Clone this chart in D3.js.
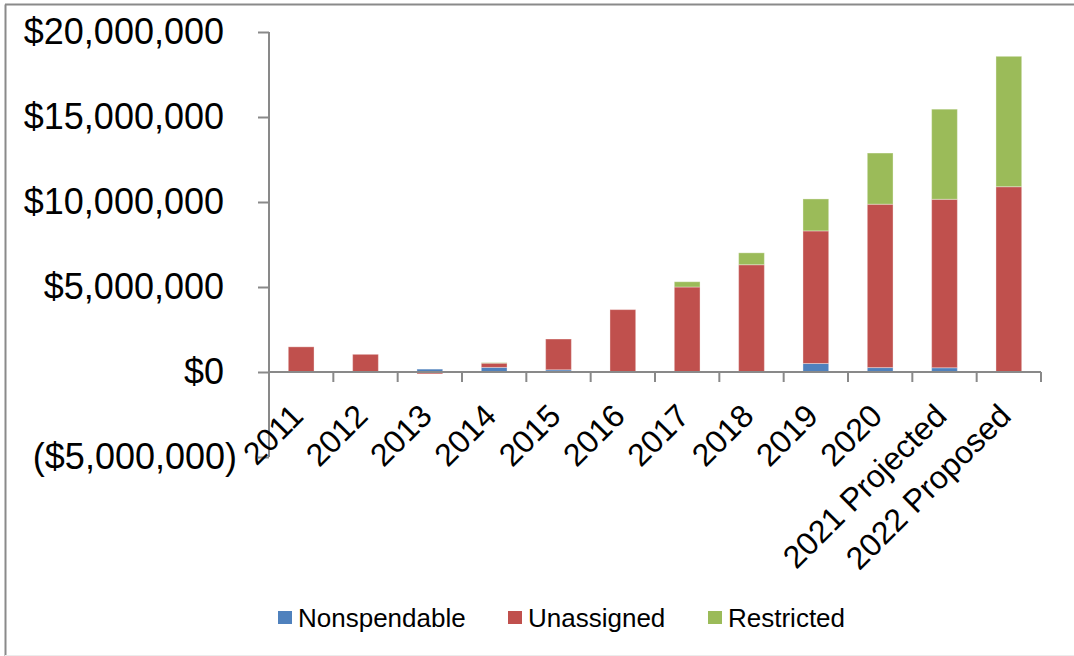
<!DOCTYPE html>
<html>
<head>
<meta charset="utf-8">
<script src="https://cdn.jsdelivr.net/npm/d3@7"></script>
<style>
  html, body { margin: 0; padding: 0; background: #fff; }
  svg { display: block; font-family: "Liberation Sans", Arial, sans-serif; }
</style>
</head>
<body>
<svg id="chart" width="1074" height="656"></svg>
<script>
const categories = ["2011","2012","2013","2014","2015","2016","2017","2018","2019","2020","2021 Projected","2022 Proposed"];
const seriesNames = ["Nonspendable","Unassigned","Restricted"];
const nonspendable = [20000, 20000, 170000, 270000, 130000, 0, 20000, 0, 500000, 260000, 250000, 0];
const unassigned   = [1460000, 1020000, -110000, 250000, 1810000, 3670000, 4980000, 6310000, 7800000, 9610000, 9910000, 10900000];
const restricted   = [0, 0, 0, 30000, 0, 0, 310000, 700000, 1880000, 3010000, 5300000, 7670000];
const yTickValues  = [-5000000, 0, 5000000, 10000000, 15000000, 20000000];
const colors = ["#4F81BD", "#C0504D", "#9BBB59"];

const svg = d3.select("#chart");

// outer border
svg.append("line").attr("x1",5.5).attr("x2",5.5).attr("y1",4.5).attr("y2",656).attr("stroke","#8a8a8a").attr("stroke-width",2);
svg.append("line").attr("x1",5).attr("x2",1074).attr("y1",4.5).attr("y2",4.5).attr("stroke","#8a8a8a").attr("stroke-width",2);
svg.append("line").attr("x1",5).attr("x2",1074).attr("y1",655.5).attr("y2",655.5).attr("stroke","#ececec").attr("stroke-width",1);

const plot = {left: 269, right: 1041, top: 32, bottom: 457};

const rows = categories.map((c, i) => ({
  cat: c,
  Nonspendable: nonspendable[i],
  Unassigned: unassigned[i],
  Restricted: restricted[i]
}));

const x = d3.scaleBand().domain(categories).range([plot.left, plot.right]).padding(0);
const y = d3.scaleLinear().domain([-5000000, 20000000]).range([plot.bottom, plot.top]);

const stack = d3.stack().keys(seriesNames).offset(d3.stackOffsetDiverging);
const layers = stack(rows);

// bars
const barW = x.bandwidth() * 0.4;
svg.append("g").selectAll("g")
  .data(layers)
  .join("g")
  .attr("fill", (d, i) => colors[i])
  .selectAll("rect")
  .data(d => d)
  .join("rect")
  .attr("x", d => x(d.data.cat) + (x.bandwidth() - barW) / 2)
  .attr("width", barW)
  .attr("y", d => y(Math.max(d[0], d[1])))
  .attr("height", d => Math.abs(y(d[0]) - y(d[1])))
  .attr("stroke", "rgba(255,255,255,0.35)")
  .attr("stroke-width", 1);

// y axis
const fmt = d3.format(",");
const yAxis = d3.axisLeft(y)
  .tickValues(yTickValues)
  .tickSize(11)
  .tickPadding(21)
  .tickFormat(v => v < 0 ? "($" + fmt(-v) + ")" : "$" + fmt(v));
const gy = svg.append("g").attr("transform", `translate(${plot.left},0)`).call(yAxis);
gy.select(".domain").attr("stroke", "#898989").attr("stroke-width", 2).attr("d", `M0,${plot.top}V${plot.bottom}`);
gy.selectAll(".tick line").attr("stroke", "#898989").attr("stroke-width", 2);
gy.selectAll(".tick text")
  .attr("font-size", 36)
  .attr("fill", "#000")
  .attr("font-family", "'Liberation Sans', Arial, sans-serif")
  .attr("x", v => v < 0 ? -32 : -45);

// x axis line at zero
const y0 = y(0);
const gx = svg.append("g");
gx.append("line")
  .attr("x1", plot.left).attr("x2", plot.right)
  .attr("y1", y0).attr("y2", y0)
  .attr("stroke", "#898989").attr("stroke-width", 2);
const boundaries = categories.map(c => x(c) + x.bandwidth());
gx.selectAll("line.tk")
  .data(boundaries)
  .join("line")
  .attr("class", "tk")
  .attr("x1", d => d).attr("x2", d => d)
  .attr("y1", y0).attr("y2", y0 + 10)
  .attr("stroke", "#898989").attr("stroke-width", 2);

gx.selectAll("text")
  .data(categories)
  .join("text")
  .attr("transform", c => `translate(${x(c) + x.bandwidth() / 2 + 4},${y0 + 46}) rotate(-45)`)
  .attr("text-anchor", "end")
  .attr("font-size", 32)
  .attr("fill", "#000")
  .text(c => c);

// legend
const legendItems = [
  {name: "Nonspendable", sx: 278, tx: 298},
  {name: "Unassigned", sx: 508, tx: 528},
  {name: "Restricted", sx: 708, tx: 728}
];
const lg = svg.append("g");
legendItems.forEach((it, i) => {
  lg.append("rect").attr("x", it.sx).attr("y", 611).attr("width", 14).attr("height", 13).attr("fill", colors[i]);
  lg.append("text").attr("x", it.tx).attr("y", 626.5).attr("font-size", 26).attr("fill", "#000").text(seriesNames[i]);
});
</script>
</body>
</html>
